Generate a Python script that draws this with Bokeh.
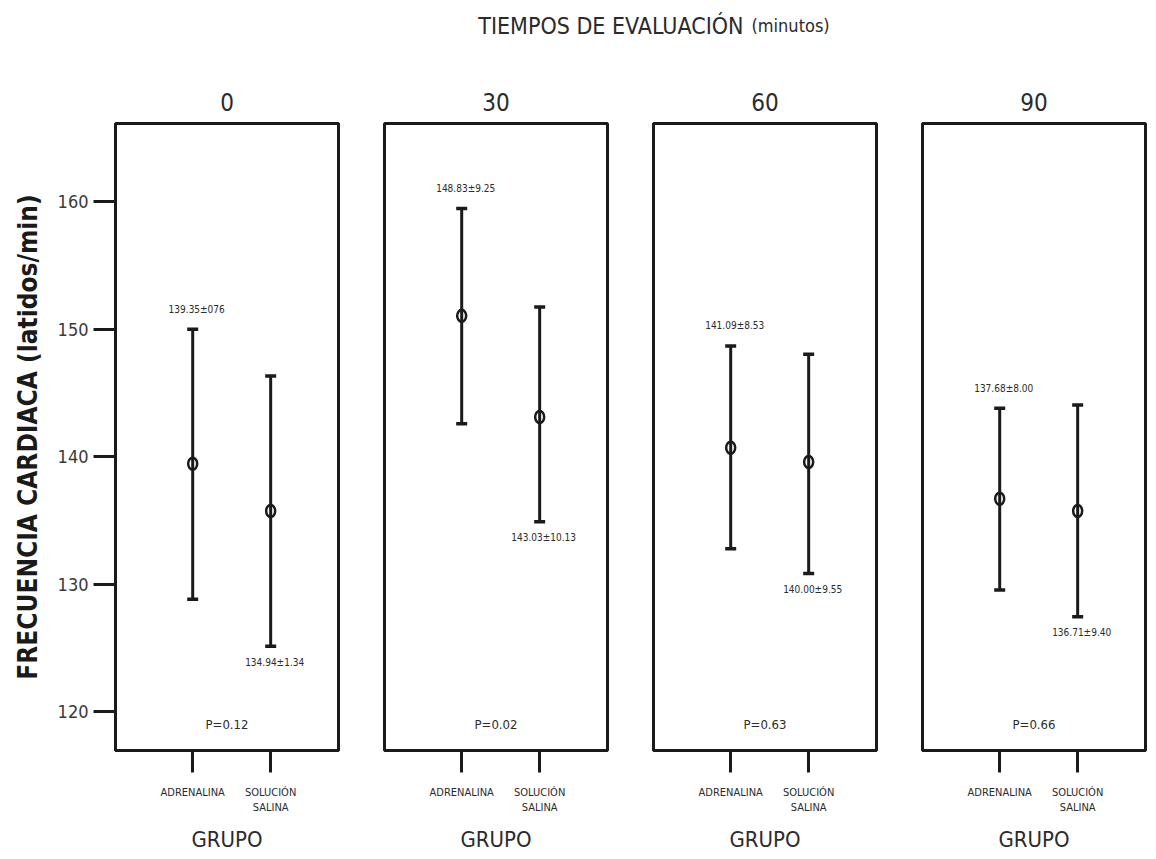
from bokeh.plotting import figure
from bokeh.layouts import row, column
from bokeh.models import Range1d, FixedTicker, Whisker, TeeHead, ColumnDataSource
from bokeh.embed import file_html
from bokeh.resources import INLINE
from bokeh.core.properties import value

# ---------------- data ----------------
times = ["0", "30", "60", "90"]
groups = ["ADRENALINA", "SOLUCIÓN\nSALINA"]

adr_mean = [139.45, 151.04, 140.71, 136.70]
adr_upper = [149.99, 159.45, 148.68, 143.80]
adr_lower = [128.82, 142.59, 132.78, 129.55]

sal_mean = [135.74, 143.11, 139.58, 135.74]
sal_upper = [146.33, 151.74, 148.03, 144.05]
sal_lower = [125.15, 134.90, 130.85, 127.45]

adr_labels = ["139.35±076", "148.83±9.25", "141.09±8.53", "137.68±8.00"]
sal_labels = ["134.94±1.34", "143.03±10.13", "140.00±9.55", "136.71±9.40"]
p_values = ["P=0.12", "P=0.02", "P=0.63", "P=0.66"]

y_ticks = [120, 130, 140, 150, 160]
main_title = "TIEMPOS DE EVALUACIÓN"
main_title_unit = "(minutos)"
y_label = "FRECUENCIA CARDIACA (latidos/min)"
x_label = "GRUPO"

# ---------------- style ----------------
FONT = "DejaVu Sans Condensed"
INK = "#1a1a1a"
TXT = "#2b2b2b"
FRAME_W = 223
FRAME_H = 627
Y_RANGE = (116.97, 166.12)
X_RANGE = (0.01, 2.87)
LEFT0 = 115


def make_panel(i):
    first = i == 0
    p = figure(frame_width=FRAME_W, frame_height=FRAME_H,
               x_range=Range1d(*X_RANGE), y_range=Range1d(*Y_RANGE),
               output_backend="svg", toolbar_location=None,
               min_border_left=LEFT0 if first else 44, min_border_right=2,
               min_border_top=63, min_border_bottom=101,
               y_axis_location="left" if first else None,
               title=times[i])
    p.background_fill_color = "white"
    p.border_fill_color = "white"
    p.outline_line_color = INK
    p.outline_line_width = 3
    p.outline_line_alpha = 1.0
    p.xgrid.visible = False
    p.ygrid.visible = False

    p.title.align = "center"
    p.title.text_font = FONT
    p.title.text_font_size = "24px"
    p.title.text_font_style = "normal"
    p.title.text_color = TXT
    p.title.standoff = 26

    ax = p.xaxis[0]
    ax.ticker = FixedTicker(ticks=[1, 2])
    ax.major_label_overrides = {1: groups[0], 2: groups[1]}
    ax.major_label_text_font = FONT
    ax.major_label_text_font_size = "11px"
    ax.major_label_text_color = TXT
    ax.major_label_standoff = 13
    ax.major_tick_out = 22
    ax.major_tick_in = 0
    ax.major_tick_line_width = 3
    ax.major_tick_line_color = INK
    ax.minor_tick_line_color = None
    ax.axis_line_width = 3
    ax.axis_line_color = INK
    ax.axis_label = x_label
    ax.axis_label_text_font = FONT
    ax.axis_label_text_font_size = "22px"
    ax.axis_label_text_font_style = "normal"
    ax.axis_label_text_color = TXT
    ax.axis_label_standoff = 10

    if first:
        ay = p.yaxis[0]
        ay.ticker = FixedTicker(ticks=y_ticks)
        ay.major_label_text_font = FONT
        ay.major_label_text_font_size = "18px"
        ay.major_label_text_color = "#3a3a3a"
        ay.major_label_standoff = 5
        ay.major_tick_out = 22
        ay.major_tick_in = 0
        ay.major_tick_line_width = 3
        ay.major_tick_line_color = INK
        ay.minor_tick_line_color = None
        ay.axis_line_width = 3
        ay.axis_line_color = INK
        ay.axis_label = y_label
        ay.axis_label_text_font = FONT
        ay.axis_label_text_font_size = "26px"
        ay.axis_label_text_font_style = "bold"
        ay.axis_label_text_color = INK
        ay.axis_label_standoff = 12

    src = ColumnDataSource(dict(
        x=[1, 2],
        mean=[adr_mean[i], sal_mean[i]],
        upper=[adr_upper[i], sal_upper[i]],
        lower=[adr_lower[i], sal_lower[i]],
    ))
    w = Whisker(base="x", upper="upper", lower="lower", source=src,
                line_width=3, line_color=INK,
                upper_head=TeeHead(size=11, line_width=3.5, line_color=INK),
                lower_head=TeeHead(size=11, line_width=3.5, line_color=INK))
    p.add_layout(w)
    p.ellipse(x="x", y="mean", width=9, height=12,
              width_units="screen", height_units="screen", source=src,
              fill_color=None, line_color=INK, line_width=2.5)

    # value annotations
    p.text(x=[1], y=[adr_upper[i]], text=[adr_labels[i]], x_offset=4, y_offset=-20,
           text_align="center", text_baseline="middle",
           text_font=value(FONT), text_font_size="10px", text_color=TXT)
    p.text(x=[2], y=[sal_lower[i]], text=[sal_labels[i]], x_offset=4, y_offset=16,
           text_align="center", text_baseline="middle",
           text_font=value(FONT), text_font_size="10px", text_color=TXT)
    p.text(x=[(X_RANGE[0] + X_RANGE[1]) / 2], y=[119.0], text=[p_values[i]],
           text_align="center", text_baseline="middle",
           text_font=value(FONT), text_font_size="13px", text_color=TXT)
    return p


panels = [make_panel(i) for i in range(4)]

TW = LEFT0 + FRAME_W + 2 + 3 * (44 + FRAME_W + 2)
tf = figure(width=TW, height=60, x_range=Range1d(0, TW), y_range=Range1d(60, 0),
            output_backend="svg", toolbar_location=None, min_border=0,
            x_axis_location=None, y_axis_location=None)
tf.outline_line_color = None
tf.grid.visible = False
tf.text(x=[743], y=[25], text=[main_title], text_align="right",
        text_baseline="alphabetic", text_font=value(FONT),
        text_font_size="23px", text_color=TXT)
tf.text(x=[751], y=[25], text=[main_title_unit], text_align="left",
        text_baseline="alphabetic", text_font=value(FONT),
        text_font_size="18px", text_color=TXT)

layout = column(tf, row(*panels))
open("out.html", "w").write(file_html(layout, INLINE))
